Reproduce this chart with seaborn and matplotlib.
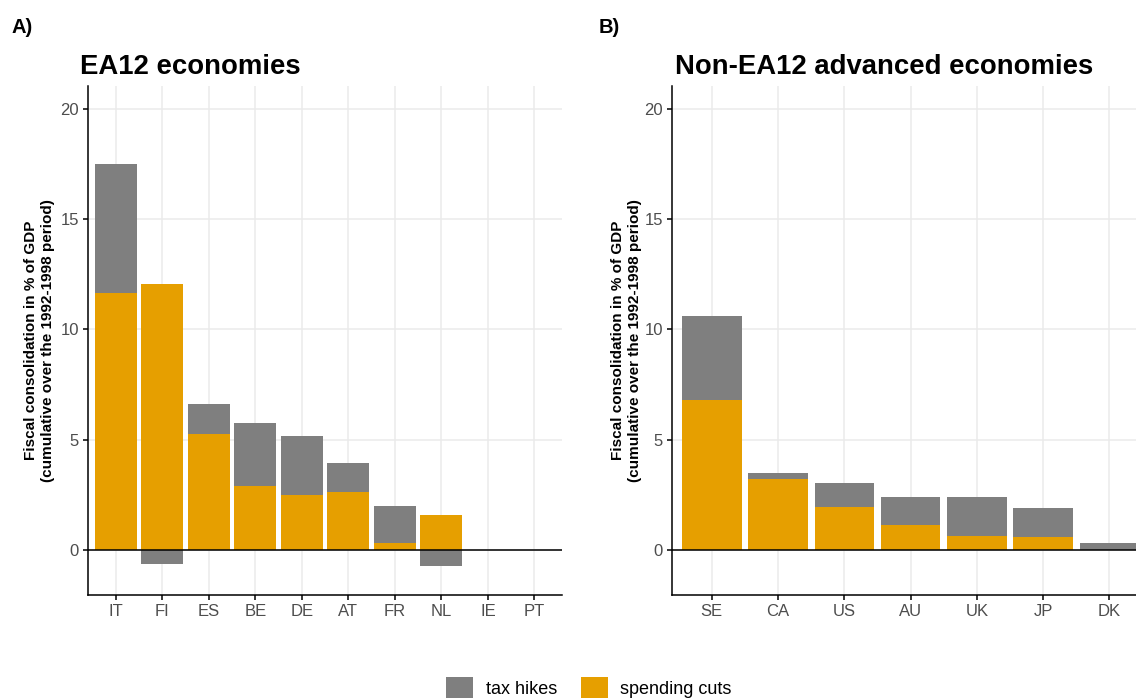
import numpy as np
import pandas as pd
import matplotlib
matplotlib.use("Agg")
import matplotlib.pyplot as plt
from matplotlib.patches import Patch
import seaborn as sns

# Cumulative fiscal consolidation 1992-1998, % of GDP
ea12_countries = ["IT", "FI", "ES", "BE", "DE", "AT", "FR", "NL", "IE", "PT"]
ea12_spending = [11.65, 12.05, 5.26, 2.88, 2.47, 2.64, 0.29, 1.59, 0.0, 0.0]
ea12_tax = [5.87, -0.64, 1.36, 2.88, 2.70, 1.31, 1.71, -0.74, 0.0, 0.0]

other_countries = ["SE", "CA", "US", "AU", "UK", "JP", "DK"]
other_spending = [6.79, 3.21, 1.94, 1.12, 0.65, 0.59, 0.0]
other_tax = [3.82, 0.27, 1.08, 1.30, 1.74, 1.30, 0.29]

panel_tags = ["A)", "B)"]
panel_titles = ["EA12 economies", "Non-EA12 advanced economies"]
y_label = "Fiscal consolidation in % of GDP\n(cumulative over the 1992-1998 period)"
y_ticks = [0, 5, 10, 15, 20]
legend_labels = ["tax hikes", "spending cuts"]

GRAY = "#7F7F7F"
ORANGE = "#E69F00"
GRID = "#EBEBEB"
TICK_TEXT = "#4D4D4D"

sns.set_theme(style="white")
plt.rcParams["font.family"] = ["Liberation Sans", "DejaVu Sans"]
plt.rcParams["text.color"] = "black"

W, H = 1136, 698
fig = plt.figure(figsize=(W / 100, H / 100), dpi=100)


def px_box(left, right, top, bottom):
    return [left / W, 1 - bottom / H, (right - left) / W, (bottom - top) / H]


ax_a = fig.add_axes(px_box(88, 562.3, 86, 595))
ax_b = fig.add_axes(px_box(672, 1136, 86, 595))


def draw_panel(ax, countries, spending, tax, xmax, label_x):
    spending = np.asarray(spending, float)
    tax = np.asarray(tax, float)
    # positive tax hikes stack on top of spending cuts, negative ones hang below zero
    tax_top = np.where(tax >= 0, np.clip(spending, 0, None) + tax, tax)
    df = pd.DataFrame({"country": countries, "spending": spending, "tax_top": tax_top})
    sns.barplot(data=df, x="country", y="tax_top", order=countries, color=GRAY,
                saturation=1, width=0.9, errorbar=None, linewidth=0, ax=ax)
    sns.barplot(data=df, x="country", y="spending", order=countries, color=ORANGE,
                saturation=1, width=0.9, errorbar=None, linewidth=0, ax=ax)
    ax.axhline(0, color="black", linewidth=1.1, zorder=5)

    ax.set_xlim(-0.6, xmax)
    ax.set_ylim(-2.05, 21.05)
    ax.set_yticks(y_ticks)
    ax.set_xlabel("")
    ax.set_axisbelow(True)
    ax.grid(True, axis="both", color=GRID, linewidth=1.1)

    for side in ("top", "right"):
        ax.spines[side].set_visible(False)
    for side in ("left", "bottom"):
        ax.spines[side].set_color("black")
        ax.spines[side].set_linewidth(1.1)

    ax.tick_params(axis="both", which="major", length=3.6, width=1.1, color="black",
                   labelsize=12, labelcolor=TICK_TEXT, pad=3, bottom=True, left=True)
    ax.set_ylabel(y_label, fontsize=11, fontweight="bold", color="black", linespacing=1.3)
    ax.yaxis.set_label_coords(label_x, 0.5)


draw_panel(ax_a, ea12_countries, ea12_spending, ea12_tax, 9.6, -0.0696)
draw_panel(ax_b, other_countries, other_spending, other_tax, 6.40, -0.0647)

# Panel tags and titles
fig.text(12 / W, 1 - 33 / H, panel_tags[0], fontsize=14.5, fontweight="bold",
         color="black", va="baseline", ha="left")
fig.text(599 / W, 1 - 33 / H, panel_tags[1], fontsize=14.5, fontweight="bold",
         color="black", va="baseline", ha="left")
fig.text(80 / W, 1 - 74 / H, panel_titles[0], fontsize=19.8, fontweight="bold",
         color="black", va="baseline", ha="left")
fig.text(675 / W, 1 - 74 / H, panel_titles[1], fontsize=19.8, fontweight="bold",
         color="black", va="baseline", ha="left")

handles = [Patch(facecolor=GRAY, edgecolor="none"), Patch(facecolor=ORANGE, edgecolor="none")]
leg = fig.legend(handles, legend_labels, loc="center", bbox_to_anchor=(589 / W, 1 - 688.5 / H),
                 ncol=2, frameon=False, fontsize=13, handlelength=1.5, handleheight=1.5,
                 handletextpad=0.7, columnspacing=1.3, borderpad=0, borderaxespad=0)
for t in leg.get_texts():
    t.set_color("black")

fig.savefig("out.png", dpi=100)
